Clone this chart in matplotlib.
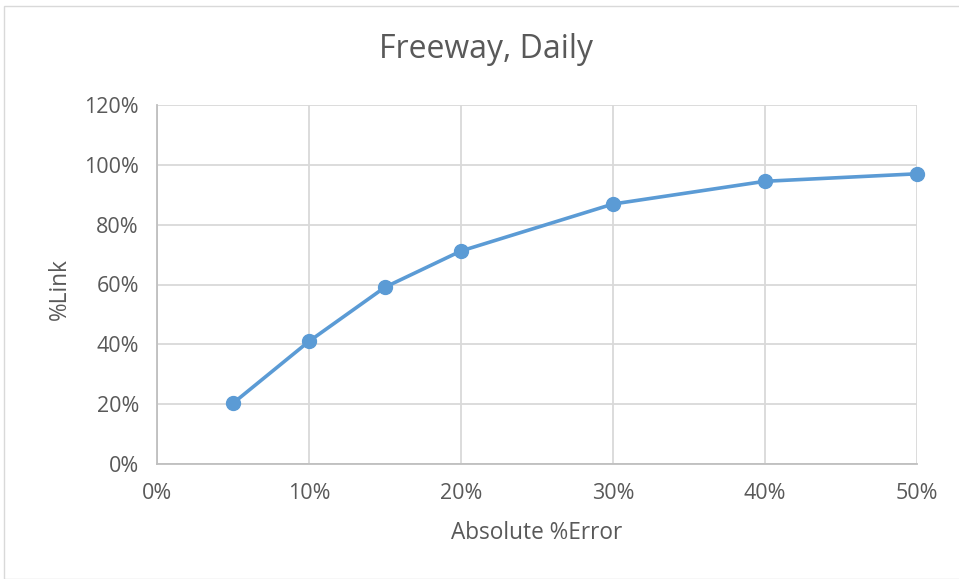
import matplotlib
matplotlib.use("Agg")
import matplotlib.pyplot as plt
from matplotlib.patches import Rectangle
from matplotlib.ticker import FuncFormatter, MultipleLocator

# data
abs_error = [5, 10, 15, 20, 30, 40, 50]          # Absolute %Error
pct_link = [20.3, 41.0, 59.1, 71.2, 86.9, 94.5, 97.0]  # %Link

TEXT = "#595959"
GRID = "#d9d9d9"
BLUE = "#5b9bd5"
W, H = 959, 579

plt.rcParams["font.family"] = ["Open Sans", "DejaVu Sans"]

fig = plt.figure(figsize=(W / 100, H / 100), dpi=100)
ax = fig.add_axes([157 / W, 1 - 464 / H, 760 / W, 359 / H])

# outer chart border
fig.patches.append(Rectangle((4 / W, 0), 1.2, 1 - 6 / H, transform=fig.transFigure,
                             fill=False, edgecolor=GRID, linewidth=1.0))

ax.plot(abs_error, pct_link, color=BLUE, linewidth=2.6, marker="o",
        markersize=10, markerfacecolor=BLUE, markeredgecolor=BLUE,
        zorder=3, clip_on=False)

ax.set_xlim(0, 50)
ax.set_ylim(0, 120)
ax.xaxis.set_major_locator(MultipleLocator(10))
ax.yaxis.set_major_locator(MultipleLocator(20))
pct = FuncFormatter(lambda v, _: f"{v:.0f}%")
ax.xaxis.set_major_formatter(pct)
ax.yaxis.set_major_formatter(pct)

ax.grid(True, color=GRID, linewidth=1.3)
ax.set_axisbelow(True)
for side in ("top", "right"):
    ax.spines[side].set_visible(False)
for side in ("left", "bottom"):
    ax.spines[side].set_color("#bfbfbf")
    ax.spines[side].set_linewidth(1.3)
ax.tick_params(length=0, labelsize=15.5, colors=TEXT)
ax.tick_params(axis="x", pad=14)
ax.tick_params(axis="y", pad=13)

fig.text(486 / W, 1 - 50 / H, "Freeway, Daily", fontsize=23, color=TEXT,
         ha="center", va="center")
fig.text(537 / W, 1 - 533 / H, "Absolute %Error", fontsize=16.3, color=TEXT,
         ha="center", va="center")
fig.text(60 / W, 1 - 289 / H, "%Link", fontsize=16.3, color=TEXT,
         ha="center", va="center", rotation=90)

fig.savefig("out.png", dpi=100)
